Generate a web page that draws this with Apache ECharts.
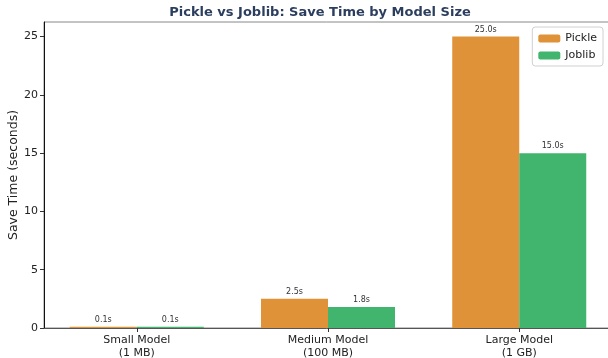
<!DOCTYPE html>
<html>
<head>
<meta charset="utf-8">
<script src="https://cdn.jsdelivr.net/npm/echarts@6/dist/echarts.min.js"></script>
<style>
  html, body { margin: 0; padding: 0; background: #fff; }
  #chart { width: 608px; height: 358px; }
</style>
</head>
<body>
<div id="chart"></div>
<script>
const categories = ['Small Model\n(1 MB)', 'Medium Model\n(100 MB)', 'Large Model\n(1 GB)']
const pickleTimes = [0.1, 2.5, 25.0]
const joblibTimes = [0.1, 1.8, 15.0]
const yTicks = [0, 5, 10, 15, 20, 25]

const font = 'DejaVu Sans'
const chart = echarts.init(document.getElementById('chart'))

const barLabel = {
  show: true,
  position: 'top',
  distance: 3,
  fontFamily: font,
  fontSize: 8,
  color: '#333',
  formatter: p => p.value[1].toFixed(1) + 's',
}

chart.setOption({
  animation: false,
  backgroundColor: '#fff',
  title: {
    text: 'Pickle vs Joblib: Save Time by Model Size',
    left: 315,
    textAlign: 'center',
    top: 1,
    textStyle: { fontFamily: font, fontSize: 13, fontWeight: 'bold', color: '#2c3e5e' },
  },
  // y axis title, placed by hand so it sits where the reference has it
  graphic: [
    {
      type: 'text',
      x: 14,
      y: 175,
      rotation: Math.PI / 2,
      style: {
        text: 'Save Time (seconds)',
        fontFamily: font,
        fontSize: 12.5,
        fill: '#222',
        align: 'center',
        verticalAlign: 'middle',
      },
    },
  ],
  legend: {
    orient: 'vertical',
    right: 5,
    top: 27,
    itemWidth: 22,
    itemHeight: 8,
    itemGap: 6,
    padding: [6, 6, 5, 6],
    borderColor: '#d0d0d0',
    borderWidth: 1,
    borderRadius: 3,
    backgroundColor: '#fff',
    textStyle: { fontFamily: font, fontSize: 11, color: '#222' },
    data: ['Pickle', 'Joblib'],
  },
  grid: {
    left: 44,
    right: -4,
    top: 22,
    bottom: 30,
    outerBoundsMode: 'none',
    show: true,
    borderColor: '#888',
    borderWidth: 1,
    backgroundColor: 'transparent',
  },
  xAxis: {
    type: 'value',
    min: -0.485,
    max: 2.485,
    axisLine: { show: true, lineStyle: { color: '#555' } },
    axisTick: { show: true, length: 4, customValues: [0, 1, 2], lineStyle: { color: '#333' } },
    axisLabel: {
      customValues: [0, 1, 2],
      formatter: v => categories[Math.round(v)],
      fontFamily: font,
      fontSize: 11,
      lineHeight: 13,
      color: '#222',
      margin: 6,
    },
    splitLine: { show: false },
  },
  yAxis: {
    type: 'value',
    min: 0,
    max: 26.25,
    axisLine: { show: true, onZero: false, lineStyle: { color: '#111' } },
    axisTick: { show: true, length: 4, customValues: yTicks, lineStyle: { color: '#333' } },
    axisLabel: {
      customValues: yTicks,
      fontFamily: font,
      fontSize: 11,
      color: '#222',
      margin: 6,
    },
    splitLine: { show: false },
  },
  series: [
    {
      name: 'Pickle',
      type: 'bar',
      data: pickleTimes.map((v, i) => [i, v]),
      barWidth: 67,
      barGap: '0%',
      itemStyle: { color: '#e09239' },
      label: barLabel,
    },
    {
      name: 'Joblib',
      type: 'bar',
      data: joblibTimes.map((v, i) => [i, v]),
      barWidth: 67,
      barGap: '0%',
      itemStyle: { color: '#41b46e' },
      label: barLabel,
    },
  ],
})
</script>
</body>
</html>
